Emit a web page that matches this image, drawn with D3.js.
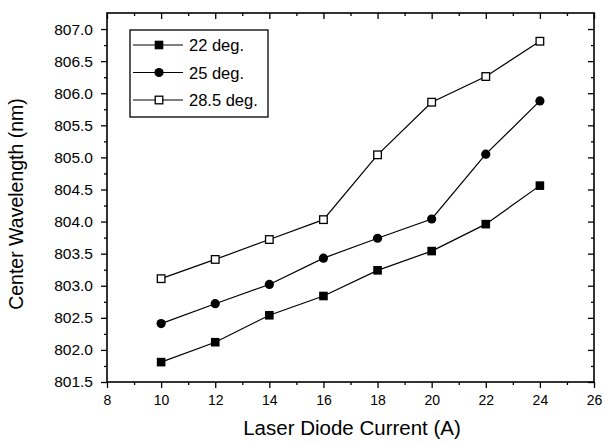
<!DOCTYPE html>
<html><head><meta charset="utf-8">
<script src="https://cdn.jsdelivr.net/npm/d3@7/dist/d3.min.js"></script>
<style>body{margin:0;background:#fff}svg{display:block}text{font-family:"Liberation Sans",Arial,sans-serif;fill:#000}</style>
</head><body><svg id="c" width="606" height="443"></svg>
<script>
const current = [10, 12, 14, 16, 18, 20, 22, 24];
const deg22 = [801.81, 802.12, 802.54, 802.84, 803.24, 803.54, 803.96, 804.56];
const deg25 = [802.41, 802.72, 803.02, 803.43, 803.74, 804.04, 805.05, 805.88];
const deg285 = [803.11, 803.41, 803.72, 804.03, 805.04, 805.86, 806.26, 806.81];
const seriesNames = ["22 deg.", "25 deg.", "28.5 deg."];
const xTicks = [8, 10, 12, 14, 16, 18, 20, 22, 24, 26];
const yTicks = [801.5, 802.0, 802.5, 803.0, 803.5, 804.0, 804.5, 805.0, 805.5, 806.0, 806.5, 807.0];

const svg = d3.select("#c");
const L = 107, R = 594, T = 13, B = 382;
const x = d3.scaleLinear().domain([8, 26]).range([L, R]);
const y = d3.scaleLinear().domain([801.5, 807.25]).range([B, T]);

svg.append("rect").attr("x", L).attr("y", T).attr("width", R - L).attr("height", B - T)
  .attr("fill", "none").attr("stroke", "#000").attr("stroke-width", 1.6);

const xMinor = d3.range(9, 26, 2);
const yMinor = d3.range(801.75, 807.25, 0.5);

svg.append("g").attr("class", "ax").attr("transform", `translate(0,${B})`)
  .call(d3.axisBottom(x).tickValues(xTicks).tickFormat(d3.format("d")).tickSize(6).tickPadding(7));
svg.append("g").attr("transform", `translate(0,${B})`)
  .call(d3.axisBottom(x).tickValues(xMinor).tickFormat("").tickSize(3));
svg.append("g").attr("class", "ay").attr("transform", `translate(${L},0)`)
  .call(d3.axisLeft(y).tickValues(yTicks).tickFormat(d3.format(".1f")).tickSize(6).tickPadding(8));
svg.append("g").attr("transform", `translate(${L},0)`)
  .call(d3.axisLeft(y).tickValues(yMinor).tickFormat("").tickSize(3));
svg.append("g").attr("transform", `translate(0,${T})`)
  .call(d3.axisBottom(x).tickValues(xTicks).tickFormat("").tickSize(6));
svg.append("g").attr("transform", `translate(0,${T})`)
  .call(d3.axisBottom(x).tickValues(xMinor).tickFormat("").tickSize(3));
svg.append("g").attr("transform", `translate(${R},0)`)
  .call(d3.axisLeft(y).tickValues(yTicks).tickFormat("").tickSize(6));
svg.append("g").attr("transform", `translate(${R},0)`)
  .call(d3.axisLeft(y).tickValues(yMinor).tickFormat("").tickSize(3));

svg.selectAll(".domain").remove();
svg.selectAll(".tick line").attr("stroke", "#000").attr("stroke-width", 1.3);
svg.selectAll(".tick text").attr("font-family", "'Liberation Sans',Arial,sans-serif").attr("fill", "#000");
svg.selectAll(".ax .tick text").attr("font-size", "14px");
svg.selectAll(".ay .tick text").attr("font-size", "15.5px");

svg.append("text").attr("x", 352).attr("y", 435).attr("text-anchor", "middle")
  .attr("font-size", "20.5px").text("Laser Diode Current (A)");
svg.append("text").attr("transform", `translate(23,204) rotate(-90)`)
  .attr("text-anchor", "middle").attr("font-size", "19.5px").text("Center Wavelength (nm)");

const data = [deg22, deg25, deg285];
const line = d3.line().x((d, i) => x(current[i])).y(d => y(d));
const markers = ["sq", "circle", "open"];

function drawMarker(g, type, cx, cy) {
  if (type === "sq") g.append("rect").attr("x", cx - 4.3).attr("y", cy - 4.3).attr("width", 8.6).attr("height", 8.6).attr("fill", "#000");
  else if (type === "circle") g.append("circle").attr("cx", cx).attr("cy", cy).attr("r", 4.6).attr("fill", "#000");
  else g.append("rect").attr("x", cx - 3.8).attr("y", cy - 3.8).attr("width", 7.6).attr("height", 7.6).attr("fill", "#fff").attr("stroke", "#000").attr("stroke-width", 1.3);
}

data.forEach((vals, s) => {
  svg.append("path").attr("d", line(vals)).attr("fill", "none").attr("stroke", "#000").attr("stroke-width", 1.2);
  const g = svg.append("g");
  vals.forEach((v, i) => drawMarker(g, markers[s], x(current[i]), y(v)));
});

const lg = svg.append("g");
lg.append("rect").attr("x", 130).attr("y", 30).attr("width", 138).attr("height", 87)
  .attr("fill", "#fff").attr("stroke", "#000").attr("stroke-width", 1.3);
seriesNames.forEach((n, s) => {
  const ly = 45 + s * 27.5;
  lg.append("line").attr("x1", 133).attr("x2", 183).attr("y1", ly).attr("y2", ly).attr("stroke", "#000").attr("stroke-width", 1.2);
  drawMarker(lg, markers[s], 159, ly);
  lg.append("text").attr("x", 189).attr("y", ly + 6).attr("font-size", "16.5px").text(n);
});
</script></body></html>
